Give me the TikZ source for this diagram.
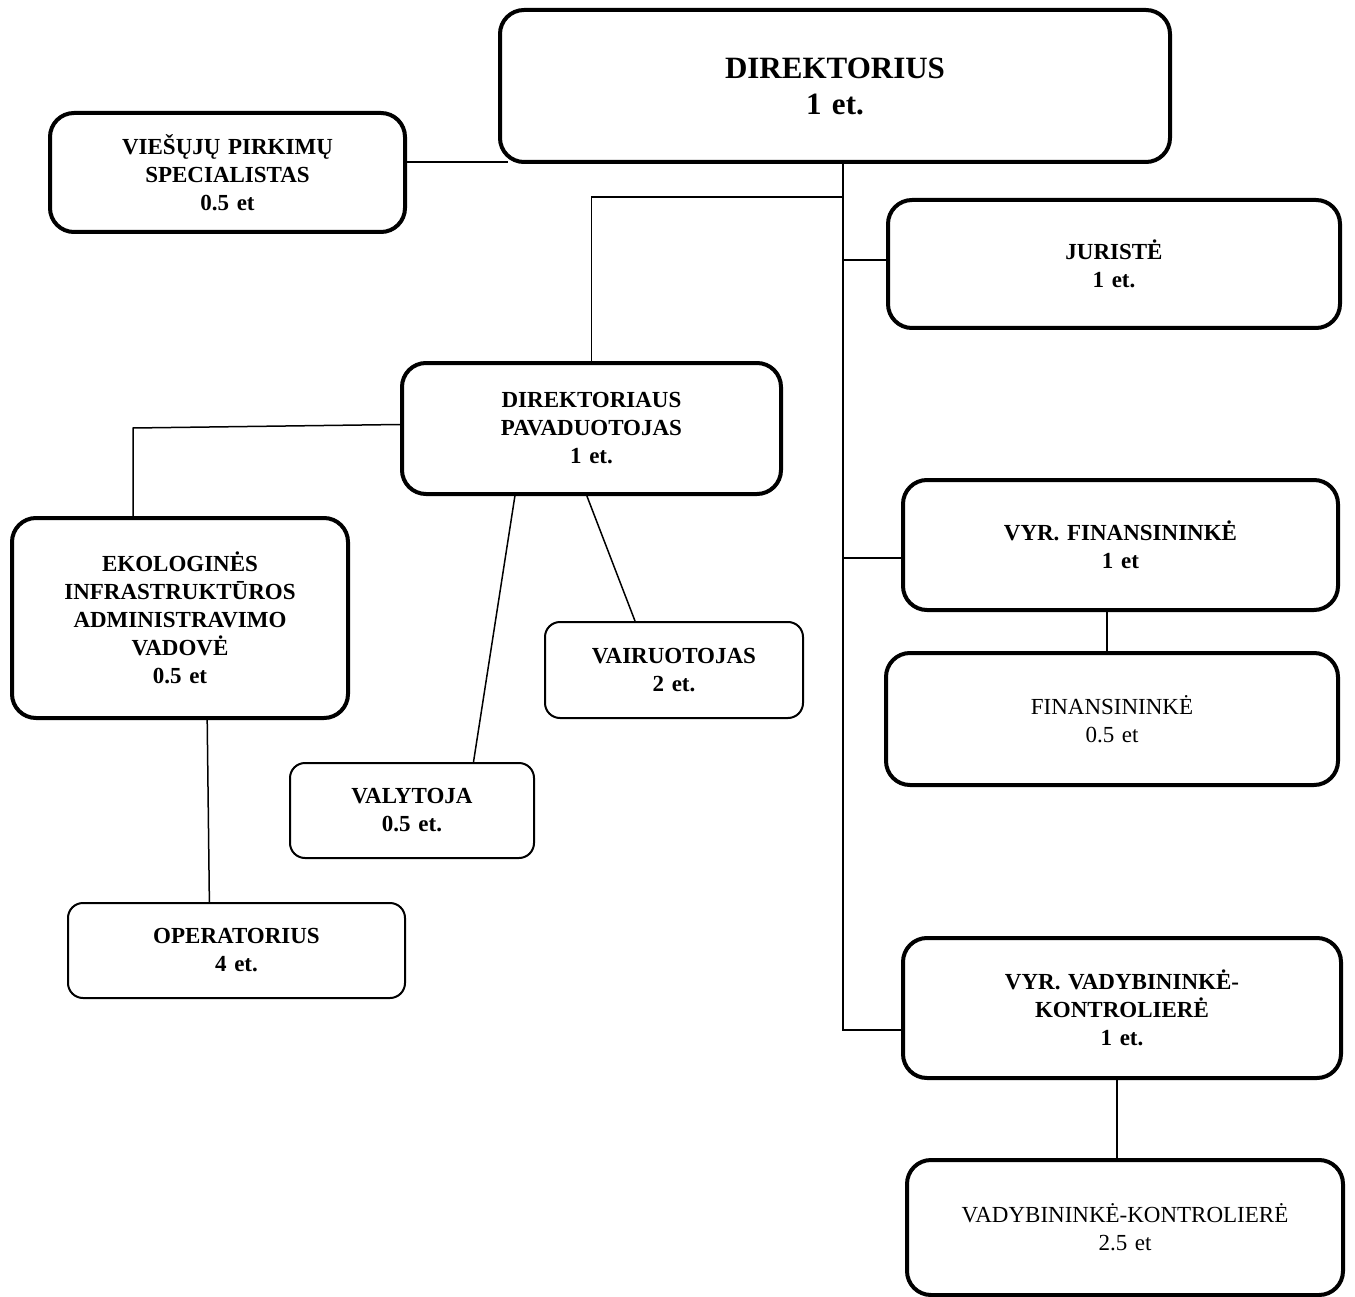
\documentclass[tikz,border=0pt]{standalone}
\usepackage{fontspec}
\setmainfont{Liberation Serif}
\usetikzlibrary{calc}
\begin{document}
\begin{tikzpicture}[x=1pt,y=-1pt,
  box/.style={draw,rounded corners=24pt,inner sep=0pt,align=center,
    font=\fontsize{23}{28}\selectfont\bfseries},
  thickbox/.style={box,line width=4pt},
  thinbox/.style={box,line width=2pt,rounded corners=15pt},
  plainbox/.style={thickbox,font=\fontsize{23}{28}\selectfont},
  conn/.style={line width=1.5pt}]
\useasboundingbox (0,0) rectangle (1355,1297);
\node[thickbox,text width=670pt,minimum height=152pt,font=\fontsize{31}{36}\selectfont\bfseries] (dir) at (835,86) {DIREKTORIUS\\1 et.};
\node[thickbox,text width=355pt,minimum height=119pt] (vp) at (227.5,172.5) {VIEŠŲJŲ PIRKIMŲ\\SPECIALISTAS\\0.5 et};
\node[thickbox,text width=452pt,minimum height=128pt] (jur) at (1114,264) {JURISTĖ\\1 et.};
\node[thickbox,text width=379pt,minimum height=131pt] (dp) at (591.5,428.5) {DIREKTORIAUS\\PAVADUOTOJAS\\1 et.};
\node[thickbox,text width=336pt,minimum height=200pt] (eko) at (180,618) {EKOLOGINĖS\\INFRASTRUKTŪROS\\ADMINISTRAVIMO\\VADOVĖ\\0.5 et};
\node[thinbox,text width=258pt,minimum height=96pt] (vair) at (674,670) {VAIRUOTOJAS\\2 et.};
\node[thinbox,text width=244pt,minimum height=95pt] (valy) at (412,810.5) {VALYTOJA\\0.5 et.};
\node[thinbox,text width=337pt,minimum height=95pt] (oper) at (236.5,950.5) {OPERATORIUS\\4 et.};
\node[thickbox,text width=435pt,minimum height=130pt] (vfin) at (1120.5,545) {VYR. FINANSININKĖ\\1 et};
\node[plainbox,text width=452pt,minimum height=132pt] (fin) at (1112,719) {FINANSININKĖ\\0.5 et};
\node[thickbox,text width=438pt,minimum height=140pt] (vvad) at (1122,1008) {VYR. VADYBININKĖ-\\KONTROLIERĖ\\1 et.};
\node[plainbox,text width=436pt,minimum height=135pt] (vad) at (1125,1227.5) {VADYBININKĖ-KONTROLIERĖ\\2.5 et};
% trunk
\coordinate (tr) at (843,1030);
\coordinate (b1) at (843,197);
\coordinate (ek) at (133,428);
\coordinate (fx) at (1107,0);
\coordinate (vx) at (1117,0);
\draw[conn] ([yshift=2pt]vp.east |- dir.south) -- ([xshift=10pt,yshift=2pt]dir.south west);
\draw[conn] (dir.south -| tr) -- (tr) -- (vvad.west |- tr);
\draw[conn] (b1) -| (dp.north);
\draw[conn] ([yshift=4pt]jur.west -| tr) -- ([yshift=4pt]jur.west);
\draw[conn] ([yshift=-13pt]vfin.west -| tr) -- ([yshift=-13pt]vfin.west);
\draw[conn] (vfin.south -| fx) -- (fin.north -| fx);
\draw[conn] (vvad.south -| vx) -- (vad.north -| vx);
\draw[conn] ([yshift=4pt]dp.west) -- (ek) -- (ek |- eko.north);
\draw[conn] ($(dp.south west)!0.3!(dp.south east)$) -- ($(valy.north west)!0.75!(valy.north east)$);
\draw[conn] ($(dp.south west)!0.488!(dp.south east)$) -- ($(vair.north west)!0.35!(vair.north east)$);
\draw[conn] ($(eko.south west)!0.58!(eko.south east)$) -- ($(oper.north west)!0.42!(oper.north east)$);
\end{tikzpicture}
\end{document}
